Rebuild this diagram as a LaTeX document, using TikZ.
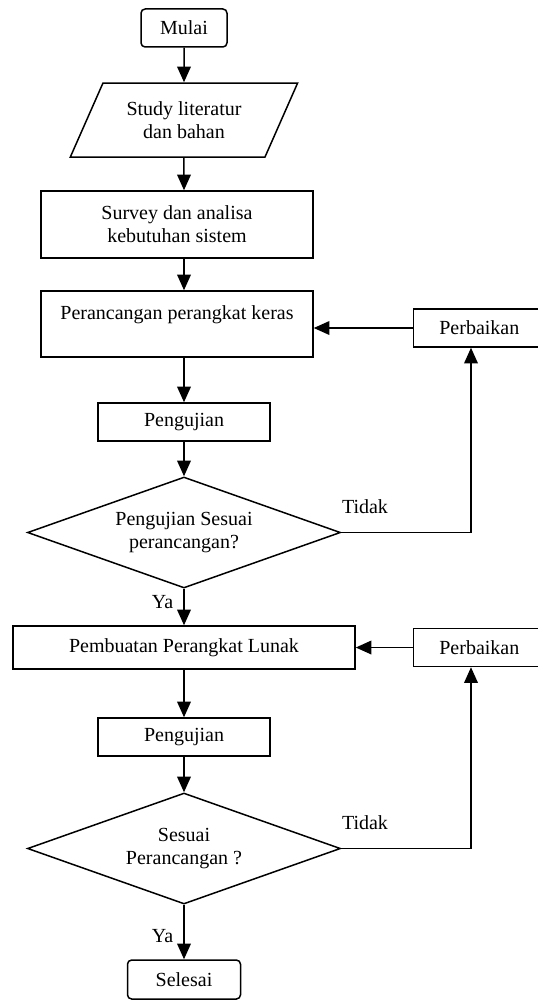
\documentclass[tikz,border=0pt]{standalone}
\usepackage{fontspec}
\setmainfont{Liberation Serif}
\usetikzlibrary{positioning,shapes.geometric,arrows.meta}

\begin{document}
\begin{tikzpicture}[
  >={Triangle[length=9.4pt,width=8.2pt]},
  line width=0.9pt,
  every node/.style={
    font=\fontsize{12}{13.8}\selectfont,
    align=center, inner sep=0pt},
  term/.style={draw,rounded corners=2.5pt,minimum width=51.6pt,minimum height=22.8pt},
  io/.style={draw,trapezium,trapezium left angle=58,trapezium right angle=122,
    trapezium stretches=true,minimum width=136.8pt,minimum height=44.4pt},
  proc/.style={draw,minimum width=163.2pt},
  uji/.style={draw,minimum width=103.2pt,minimum height=22.8pt},
  dec/.style={draw,diamond,aspect=2.82,minimum width=187.8pt,minimum height=66.6pt},
  fix/.style={draw,minimum width=79pt,minimum height=22.8pt},
  lab/.style={draw=none}]

  \useasboundingbox (-110.4pt,16.8pt) rectangle (211.8pt,-584.4pt);

  % main column
  \node[term] (mulai) at (0,0) {Mulai};
  \node[io, below=20.7pt of mulai] (studi) {Study literatur\\dan bahan};
  \node[proc, below=19.5pt of studi, xshift=-4.2pt, minimum height=40.2pt] (survey)
    {Survey dan analisa\\kebutuhan sistem};
  \node[proc, below=18.9pt of survey, minimum height=39.6pt] (rancang)
    {Perancangan perangkat keras\\\mbox{}};
  \node[uji, below=26.7pt of rancang, xshift=4.2pt] (uji1) {Pengujian};
  \node[dec, below=20.7pt of uji1] (cek1) {Pengujian Sesuai\\perancangan?};
  \node[proc, below=21.9pt of cek1, minimum width=205.2pt, minimum height=25.8pt] (lunak)
    {Pembuatan Perangkat Lunak};
  \node[uji, below=28.5pt of lunak] (uji2) {Pengujian};
  \node[dec, below=21.3pt of uji2] (cek2) {Sesuai\\Perancangan ?};
  \node[term, below=32.7pt of cek2, minimum width=67.8pt, minimum height=23.4pt] (selesai)
    {Selesai};

  % repair boxes
  \node[fix, right=59.4pt of rancang, yshift=-2.4pt] (fix1) {Perbaikan};
  \node[fix] (fix2) at (fix1 |- lunak) {Perbaikan};

  \draw[->] (mulai) -- (studi);
  \draw[->] (studi) -- (studi |- survey.north);
  \draw[->] (survey.south -| mulai) -- (rancang.north -| mulai);
  \draw[->] (uji1 |- rancang.south) -- (uji1);
  \draw[->] (uji1) -- (cek1);
  \draw[->] (cek1) -- node[lab, left=6pt, pos=.37] {Ya} (lunak);
  \draw[->] (lunak) -- (uji2);
  \draw[->] (uji2) -- (cek2);
  \draw[->] (cek2) -- node[lab, left=6pt, pos=.57] {Ya} (selesai);

  \draw[->] (cek1.east) -| node[lab, pos=0, anchor=south west, yshift=11pt] {Tidak}
    ([xshift=-5pt]fix1.south);
  \draw[->] (fix1) -- (fix1 -| rancang.east);
  \draw[->] (cek2.east) -| node[lab, pos=0, anchor=south west, yshift=11pt] {Tidak}
    ([xshift=-5pt]fix2.south);
  \draw[->] (fix2) -- (fix2 -| lunak.east);
\end{tikzpicture}
\end{document}
